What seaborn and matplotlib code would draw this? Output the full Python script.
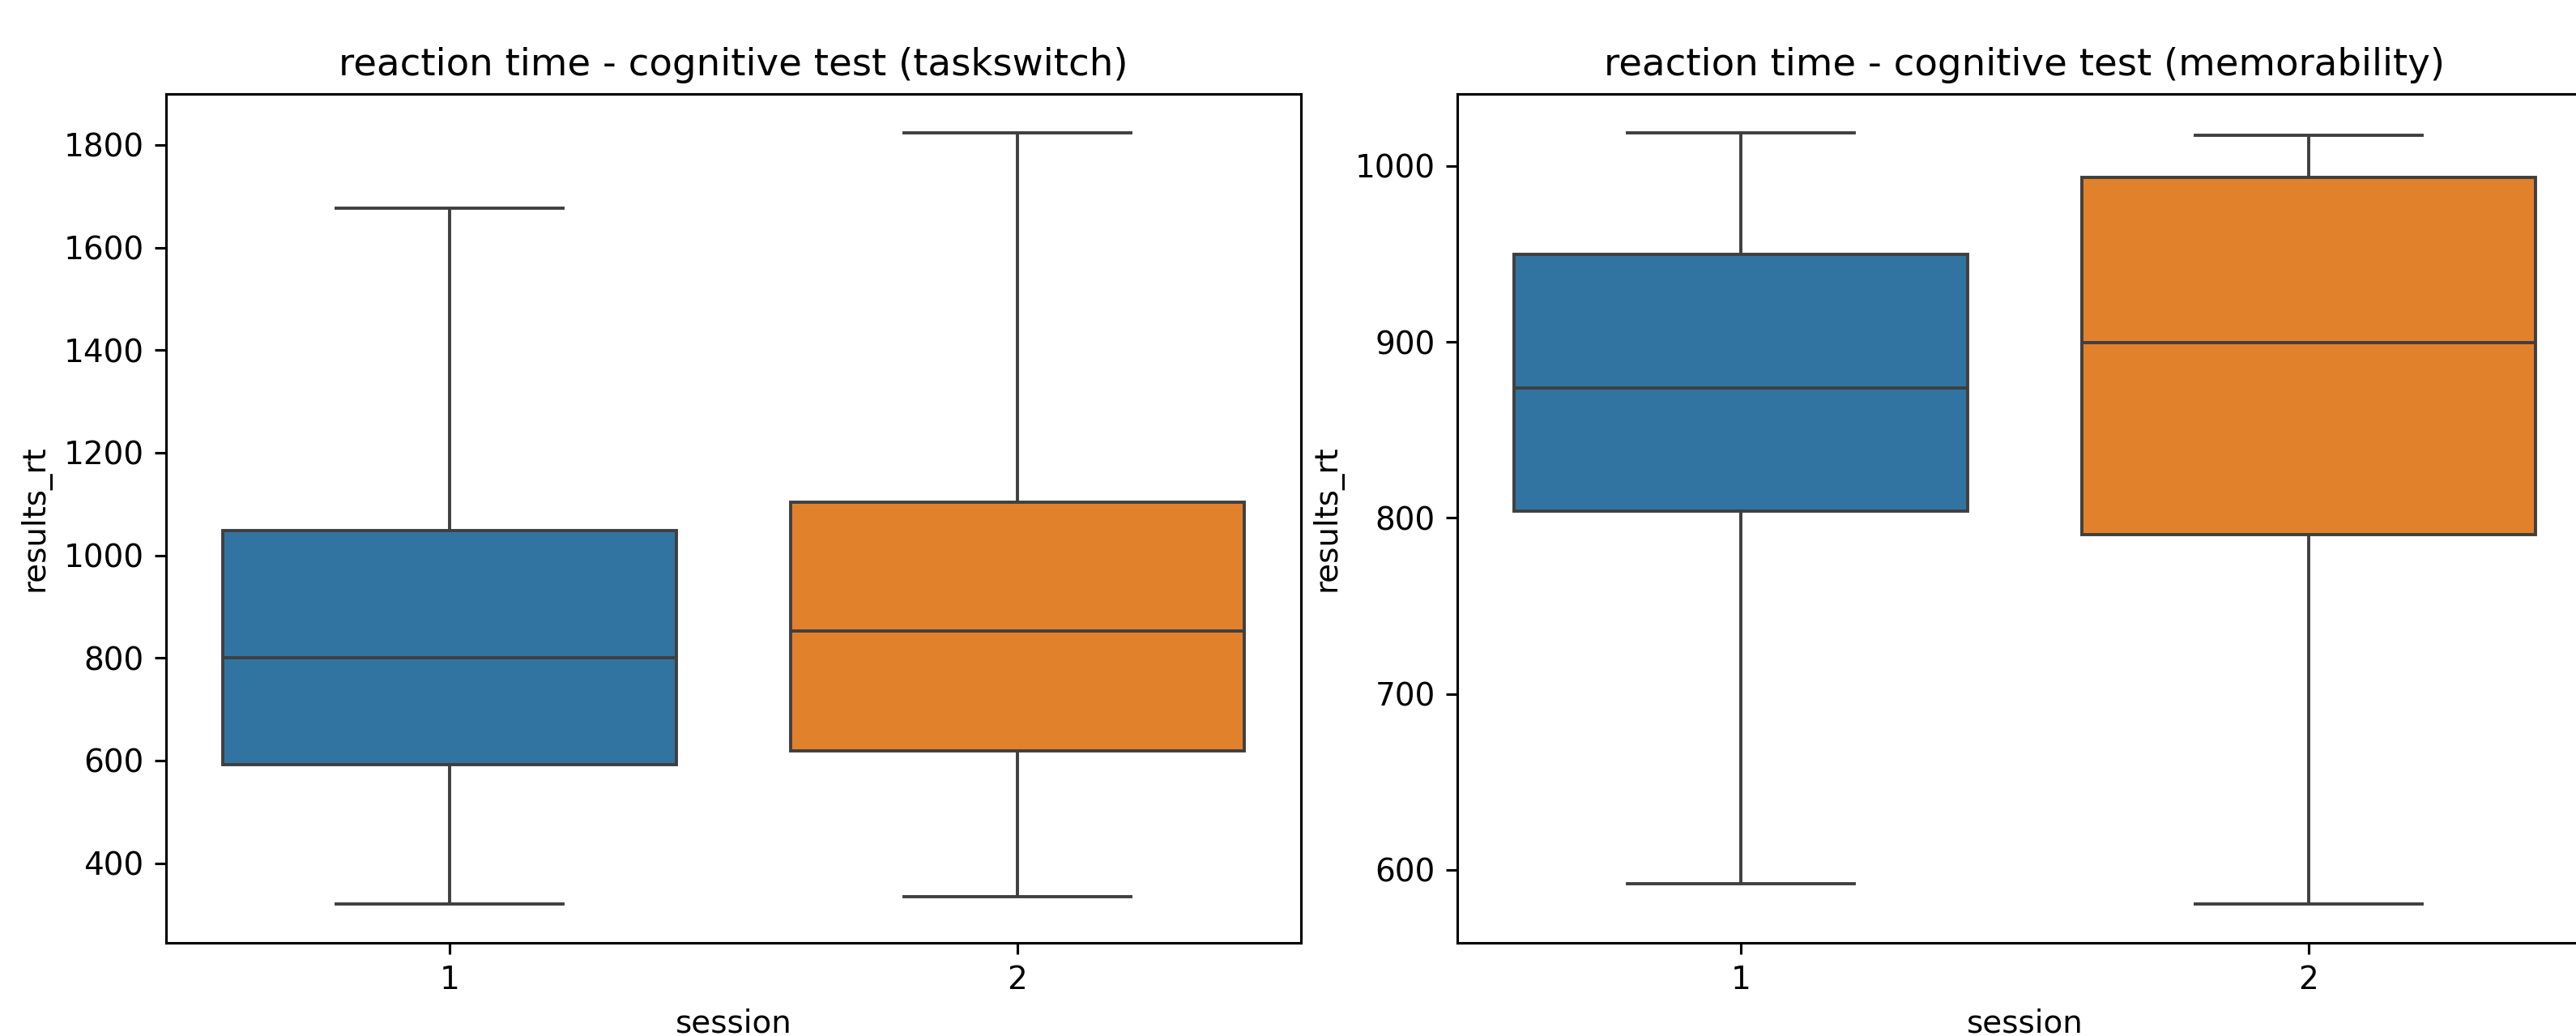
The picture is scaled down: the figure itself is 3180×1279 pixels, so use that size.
import pandas as pd
import matplotlib
matplotlib.use('Agg')
import matplotlib.pyplot as plt
import seaborn as sns

# Resumen de cinco números por sesión (min, q1, mediana, q3, max)
sesiones = [1, 2]
taskswitch_s1 = [320, 592, 801, 1048, 1677]
taskswitch_s2 = [335, 619, 852, 1103, 1824]
memorab_s1 = [592, 804, 874, 950, 1019]
memorab_s2 = [580.5, 790.5, 899.5, 993.5, 1017.5]

df_ts = pd.DataFrame({
    'session': [sesiones[0]] * 5 + [sesiones[1]] * 5,
    'results_rt': taskswitch_s1 + taskswitch_s2,
})
df_mem = pd.DataFrame({
    'session': [sesiones[0]] * 5 + [sesiones[1]] * 5,
    'results_rt': memorab_s1 + memorab_s2,
})

dpi = 280
fig = plt.figure(figsize=(3180 / dpi, 1279 / dpi), dpi=dpi)
ax1 = fig.add_axes([205 / 3180, 115 / 1279, 1401 / 3180, 1048 / 1279])
ax2 = fig.add_axes([1799 / 3180, 115 / 1279, 1401 / 3180, 1048 / 1279])

colores = ['#1f77b4', '#ff7f0e']

sns.boxplot(data=df_ts, x='session', y='results_rt', hue='session',
            palette=colores, whis=(0, 100), legend=False, ax=ax1)
ax1.set_title('reaction time - cognitive test (taskswitch)')

sns.boxplot(data=df_mem, x='session', y='results_rt', hue='session',
            palette=colores, whis=(0, 100), legend=False, ax=ax2)
ax2.set_title('reaction time - cognitive test (memorability)')

fig.savefig('out.png', dpi=dpi)
